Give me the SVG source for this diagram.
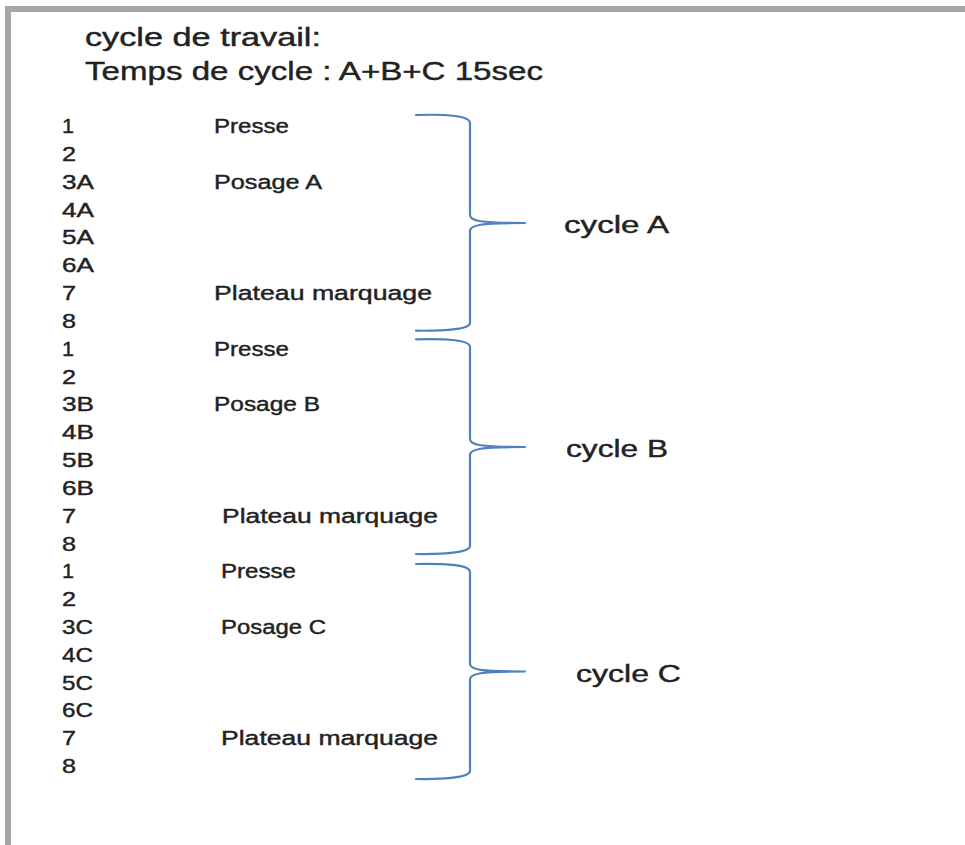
<svg xmlns="http://www.w3.org/2000/svg" width="965" height="845" viewBox="0 0 965 845">
<style>
.t{font-family:"Liberation Sans",Arial,sans-serif;fill:#222;stroke:#222;stroke-width:0.4;}
.r{font-size:20px;}
.h{font-size:25px;}
.c{font-size:23px;}
.br{fill:none;stroke:#4f81bd;stroke-width:2.2;stroke-linecap:round;stroke-linejoin:round;}
</style>
<rect x="0" y="0" width="965" height="845" fill="#fff"/>
<rect x="5" y="6" width="960" height="6" fill="#a6a6a6"/>
<rect x="5" y="6" width="6" height="839" fill="#a6a6a6"/>
<g id="title">
<text class="t h" x="85" y="46" textLength="236" lengthAdjust="spacingAndGlyphs">cycle de travail:</text>
<text class="t h" x="85" y="80" textLength="458" lengthAdjust="spacingAndGlyphs">Temps de cycle : A+B+C 15sec</text>
</g>
<g id="numbers">
<text class="t r" x="62" y="133" textLength="12" lengthAdjust="spacingAndGlyphs">1</text>
<text class="t r" x="62" y="160.8" textLength="14" lengthAdjust="spacingAndGlyphs">2</text>
<text class="t r" x="62" y="188.7" textLength="32" lengthAdjust="spacingAndGlyphs">3A</text>
<text class="t r" x="62" y="216.5" textLength="32" lengthAdjust="spacingAndGlyphs">4A</text>
<text class="t r" x="62" y="244.3" textLength="32" lengthAdjust="spacingAndGlyphs">5A</text>
<text class="t r" x="62" y="272.2" textLength="32" lengthAdjust="spacingAndGlyphs">6A</text>
<text class="t r" x="62" y="300" textLength="14" lengthAdjust="spacingAndGlyphs">7</text>
<text class="t r" x="62" y="327.8" textLength="14" lengthAdjust="spacingAndGlyphs">8</text>
<text class="t r" x="62" y="355.6" textLength="12" lengthAdjust="spacingAndGlyphs">1</text>
<text class="t r" x="62" y="383.5" textLength="14" lengthAdjust="spacingAndGlyphs">2</text>
<text class="t r" x="62" y="411.3" textLength="32" lengthAdjust="spacingAndGlyphs">3B</text>
<text class="t r" x="62" y="439.1" textLength="32" lengthAdjust="spacingAndGlyphs">4B</text>
<text class="t r" x="62" y="467" textLength="32" lengthAdjust="spacingAndGlyphs">5B</text>
<text class="t r" x="62" y="494.8" textLength="32" lengthAdjust="spacingAndGlyphs">6B</text>
<text class="t r" x="62" y="522.6" textLength="14" lengthAdjust="spacingAndGlyphs">7</text>
<text class="t r" x="62" y="550.5" textLength="14" lengthAdjust="spacingAndGlyphs">8</text>
<text class="t r" x="62" y="578.3" textLength="12" lengthAdjust="spacingAndGlyphs">1</text>
<text class="t r" x="62" y="606.1" textLength="14" lengthAdjust="spacingAndGlyphs">2</text>
<text class="t r" x="62" y="634" textLength="31" lengthAdjust="spacingAndGlyphs">3C</text>
<text class="t r" x="62" y="661.8" textLength="31" lengthAdjust="spacingAndGlyphs">4C</text>
<text class="t r" x="62" y="689.6" textLength="31" lengthAdjust="spacingAndGlyphs">5C</text>
<text class="t r" x="62" y="717.4" textLength="31" lengthAdjust="spacingAndGlyphs">6C</text>
<text class="t r" x="62" y="745.3" textLength="14" lengthAdjust="spacingAndGlyphs">7</text>
<text class="t r" x="62" y="773.1" textLength="14" lengthAdjust="spacingAndGlyphs">8</text>
</g>
<g id="labels">
<text class="t r" x="214" y="133" textLength="75" lengthAdjust="spacingAndGlyphs">Presse</text>
<text class="t r" x="214" y="188.7" textLength="108" lengthAdjust="spacingAndGlyphs">Posage A</text>
<text class="t r" x="214" y="300" textLength="218" lengthAdjust="spacingAndGlyphs">Plateau marquage</text>
<text class="t r" x="214" y="355.6" textLength="75" lengthAdjust="spacingAndGlyphs">Presse</text>
<text class="t r" x="214" y="411.3" textLength="106" lengthAdjust="spacingAndGlyphs">Posage B</text>
<text class="t r" x="222" y="522.6" textLength="216" lengthAdjust="spacingAndGlyphs">Plateau marquage</text>
<text class="t r" x="221" y="578.3" textLength="75" lengthAdjust="spacingAndGlyphs">Presse</text>
<text class="t r" x="221" y="634" textLength="105" lengthAdjust="spacingAndGlyphs">Posage C</text>
<text class="t r" x="221" y="745.3" textLength="217" lengthAdjust="spacingAndGlyphs">Plateau marquage</text>
</g>
<g id="connectors">
<path class="br" d="M416,115 C448,114 470,116 470,123 L470,215 C470,221 480,223 525,223 M525,223 C480,223 470,225 470,231 L470,323 C470,329 448,331 416,330.7"/>
<path class="br" d="M416,339.3 C448,338.5 470,340 470,347 L470,439 C470,445 480,447 525,447 M525,447 C480,447 470,449 470,455 L470,546 C470,552 448,554.5 416,554"/>
<path class="br" d="M416,564 C448,563.5 470,565 470,572 L470,664 C470,669.5 480,671.5 525,671.5 M525,671.5 C480,671.5 470,673.5 470,679.5 L470,771 C470,777 448,779.5 416,779"/>
</g>
<g id="cycleA"><text class="t c" x="564" y="233" textLength="105" lengthAdjust="spacingAndGlyphs">cycle A</text></g>
<g id="cycleB"><text class="t c" x="566" y="457" textLength="102" lengthAdjust="spacingAndGlyphs">cycle B</text></g>
<g id="cycleC"><text class="t c" x="576" y="682" textLength="105" lengthAdjust="spacingAndGlyphs">cycle C</text></g>
</svg>
